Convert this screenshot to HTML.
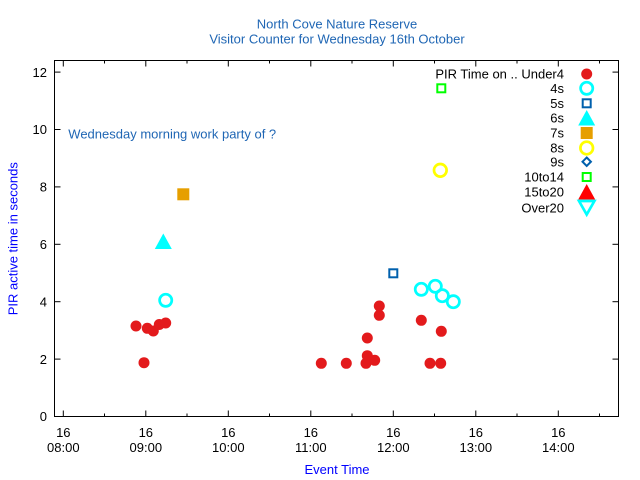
<!DOCTYPE html>
<html><head><meta charset="utf-8"><style>
html,body{margin:0;padding:0;background:#fff;}
svg{display:block;}
text{font-family:"Liberation Sans",Arial,sans-serif;font-size:13px;}
</style></head><body>
<svg width="640" height="480" viewBox="0 0 640 480" xmlns="http://www.w3.org/2000/svg">
<rect width="640" height="480" fill="#fff"/>
<!-- titles -->
<text x="337" y="28.7" text-anchor="middle" fill="#1f66b4">North Cove Nature Reserve</text>
<text x="337" y="43.4" text-anchor="middle" fill="#1f66b4">Visitor Counter for Wednesday 16th October</text>
<!-- frame -->
<rect x="54.5" y="60.5" width="564" height="356" fill="none" stroke="#000" stroke-width="1"/>
<!-- y ticks -->
<g stroke="#000" stroke-width="1">
<line x1="54.5" y1="416.5" x2="60.5" y2="416.5"/><line x1="618.5" y1="416.5" x2="612.5" y2="416.5"/>
<line x1="54.5" y1="359.1" x2="60.5" y2="359.1"/><line x1="618.5" y1="359.1" x2="612.5" y2="359.1"/>
<line x1="54.5" y1="301.7" x2="60.5" y2="301.7"/><line x1="618.5" y1="301.7" x2="612.5" y2="301.7"/>
<line x1="54.5" y1="244.3" x2="60.5" y2="244.3"/><line x1="618.5" y1="244.3" x2="612.5" y2="244.3"/>
<line x1="54.5" y1="186.9" x2="60.5" y2="186.9"/><line x1="618.5" y1="186.9" x2="612.5" y2="186.9"/>
<line x1="54.5" y1="129.5" x2="60.5" y2="129.5"/><line x1="618.5" y1="129.5" x2="612.5" y2="129.5"/>
<line x1="54.5" y1="72.1" x2="60.5" y2="72.1"/><line x1="618.5" y1="72.1" x2="612.5" y2="72.1"/>
<!-- x major -->
<line x1="63.3" y1="416.5" x2="63.3" y2="410.5"/><line x1="63.3" y1="60.5" x2="63.3" y2="66.5"/>
<line x1="145.8" y1="416.5" x2="145.8" y2="410.5"/><line x1="145.8" y1="60.5" x2="145.8" y2="66.5"/>
<line x1="228.3" y1="416.5" x2="228.3" y2="410.5"/><line x1="228.3" y1="60.5" x2="228.3" y2="66.5"/>
<line x1="310.8" y1="416.5" x2="310.8" y2="410.5"/><line x1="310.8" y1="60.5" x2="310.8" y2="66.5"/>
<line x1="393.3" y1="416.5" x2="393.3" y2="410.5"/><line x1="393.3" y1="60.5" x2="393.3" y2="66.5"/>
<line x1="475.8" y1="416.5" x2="475.8" y2="410.5"/><line x1="475.8" y1="60.5" x2="475.8" y2="66.5"/>
<line x1="558.3" y1="416.5" x2="558.3" y2="410.5"/><line x1="558.3" y1="60.5" x2="558.3" y2="66.5"/>
<!-- x minor -->
<line x1="104.5" y1="416.5" x2="104.5" y2="413.5"/><line x1="104.5" y1="60.5" x2="104.5" y2="63.5"/>
<line x1="187" y1="416.5" x2="187" y2="413.5"/><line x1="187" y1="60.5" x2="187" y2="63.5"/>
<line x1="269.5" y1="416.5" x2="269.5" y2="413.5"/><line x1="269.5" y1="60.5" x2="269.5" y2="63.5"/>
<line x1="352" y1="416.5" x2="352" y2="413.5"/><line x1="352" y1="60.5" x2="352" y2="63.5"/>
<line x1="434.5" y1="416.5" x2="434.5" y2="413.5"/><line x1="434.5" y1="60.5" x2="434.5" y2="63.5"/>
<line x1="517" y1="416.5" x2="517" y2="413.5"/><line x1="517" y1="60.5" x2="517" y2="63.5"/>
<line x1="599.5" y1="416.5" x2="599.5" y2="413.5"/><line x1="599.5" y1="60.5" x2="599.5" y2="63.5"/>
</g>
<!-- y tick labels -->
<g fill="#000" text-anchor="end">
<text x="47" y="421.2">0</text>
<text x="47" y="363.8">2</text>
<text x="47" y="306.4">4</text>
<text x="47" y="249">6</text>
<text x="47" y="191.6">8</text>
<text x="47" y="134.2">10</text>
<text x="47" y="76.8">12</text>
</g>
<!-- x tick labels -->
<g fill="#000" text-anchor="middle">
<text x="63.3" y="437">16</text><text x="63.3" y="452">08:00</text>
<text x="145.8" y="437">16</text><text x="145.8" y="452">09:00</text>
<text x="228.3" y="437">16</text><text x="228.3" y="452">10:00</text>
<text x="310.8" y="437">16</text><text x="310.8" y="452">11:00</text>
<text x="393.3" y="437">16</text><text x="393.3" y="452">12:00</text>
<text x="475.8" y="437">16</text><text x="475.8" y="452">13:00</text>
<text x="558.3" y="437">16</text><text x="558.3" y="452">14:00</text>
</g>
<!-- axis labels -->
<text x="337" y="474" text-anchor="middle" fill="#0000ff">Event Time</text>
<text transform="translate(17.5,238.7) rotate(-90)" text-anchor="middle" fill="#0000ff">PIR active time in seconds</text>
<!-- annotation -->
<text x="68.3" y="138.6" fill="#1f66b4">Wednesday morning work party of ?</text>
<!-- legend -->
<g fill="#000" text-anchor="end">
<text x="564" y="78.7">PIR Time on .. Under4</text>
<text x="564" y="93">4s</text>
<text x="564" y="108">5s</text>
<text x="564" y="122.7">6s</text>
<text x="564" y="137.7">7s</text>
<text x="564" y="152.7">8s</text>
<text x="564" y="166.4">9s</text>
<text x="564" y="181.7">10to14</text>
<text x="564" y="196.7">15to20</text>
<text x="564" y="212.4">Over20</text>
</g>
<circle cx="586.7" cy="74" r="5.5" fill="#e31a1c"/>
<circle cx="586.7" cy="88.3" r="6.1" fill="none" stroke="#00ffff" stroke-width="2.7"/>
<rect x="582.7" y="99.3" width="8" height="8" fill="none" stroke="#0060ad" stroke-width="2"/>
<polygon points="578.2,125.5 595.2,125.5 586.7,110" fill="#00ffff"/>
<rect x="580.7" y="127" width="12" height="12" fill="#e69f00"/>
<circle cx="586.7" cy="148" r="6.3" fill="none" stroke="#ffff00" stroke-width="2.7"/>
<polygon points="586.7,157.5 590.9,161.7 586.7,165.9 582.5,161.7" fill="none" stroke="#0060ad" stroke-width="2"/>
<rect x="582.7" y="173" width="8" height="8" fill="none" stroke="#00ff00" stroke-width="2"/>
<polygon points="578.2,199.5 595.2,199.5 586.7,184" fill="#ff0000"/>
<polygon points="579,201 594.4,201 586.7,214.5" fill="none" stroke="#00ffff" stroke-width="2.7"/>
<!-- data: Under4 red filled circles -->
<g fill="#e31a1c">
<circle cx="136" cy="326" r="5.5"/>
<circle cx="147.3" cy="328.3" r="5.5"/>
<circle cx="153.3" cy="331" r="5.5"/>
<circle cx="159.3" cy="324.5" r="5.5"/>
<circle cx="165.7" cy="323" r="5.5"/>
<circle cx="144" cy="362.7" r="5.5"/>
<circle cx="321.3" cy="363.3" r="5.5"/>
<circle cx="346.3" cy="363.3" r="5.5"/>
<circle cx="366" cy="363.3" r="5.5"/>
<circle cx="367.3" cy="355.7" r="5.5"/>
<circle cx="374.7" cy="360.3" r="5.5"/>
<circle cx="367.3" cy="338" r="5.5"/>
<circle cx="379.3" cy="306" r="5.5"/>
<circle cx="379.3" cy="315.3" r="5.5"/>
<circle cx="421.3" cy="320.3" r="5.5"/>
<circle cx="441.3" cy="331.3" r="5.5"/>
<circle cx="430" cy="363.3" r="5.5"/>
<circle cx="440.7" cy="363.3" r="5.5"/>
</g>
<!-- 4s cyan open circles -->
<g fill="none" stroke="#00ffff" stroke-width="2.7">
<circle cx="165.7" cy="300.3" r="6.1"/>
<circle cx="421.3" cy="289.3" r="6.1"/>
<circle cx="435.3" cy="286.3" r="6.1"/>
<circle cx="442.3" cy="295.7" r="6.1"/>
<circle cx="453.3" cy="301.7" r="6.1"/>
</g>
<!-- 5s blue square -->
<rect x="389.3" y="269.3" width="8" height="8" fill="none" stroke="#0060ad" stroke-width="2"/>
<!-- 6s cyan triangle -->
<polygon points="154.8,249 171.8,249 163.3,233.5" fill="#00ffff"/>
<!-- 7s orange square -->
<rect x="177.3" y="188.3" width="12" height="12" fill="#e69f00"/>
<!-- 8s yellow circle -->
<circle cx="440.3" cy="170.3" r="6.3" fill="none" stroke="#ffff00" stroke-width="2.7"/>
<!-- 10to14 lime square -->
<rect x="437.3" y="84.3" width="8" height="8" fill="none" stroke="#00ff00" stroke-width="2"/>
</svg>
</body></html>
